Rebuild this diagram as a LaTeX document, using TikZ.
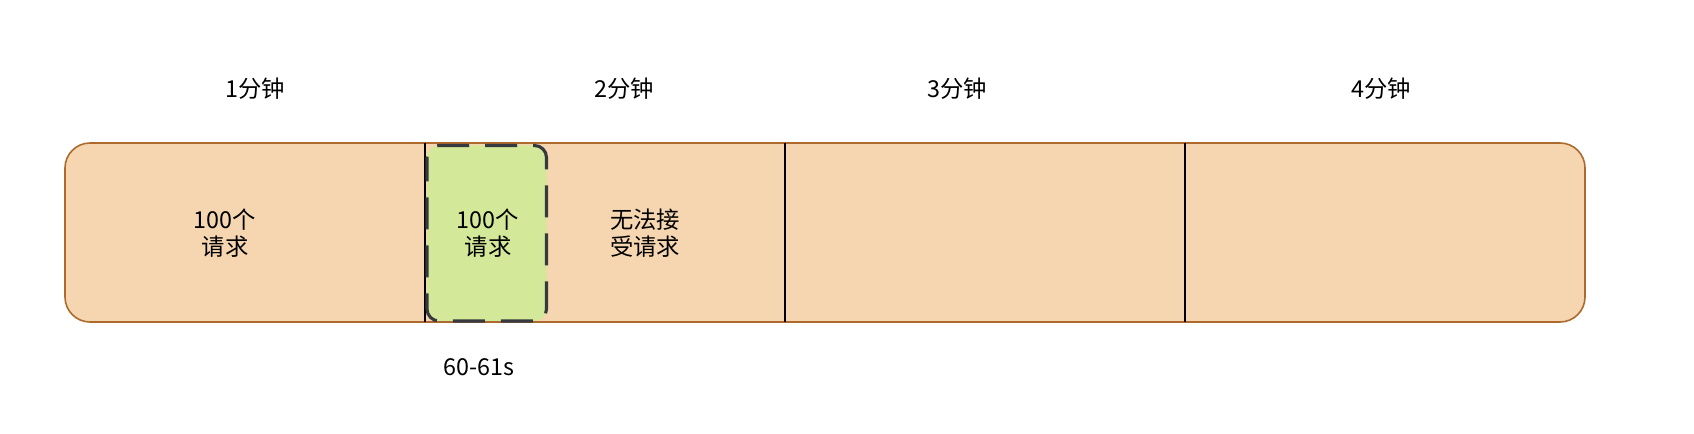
\documentclass[tikz,border=0pt]{standalone}
\usepackage{fontspec}
\setmainfont{Noto Sans CJK SC}
\usepackage{xcolor}
\definecolor{slotfill}{HTML}{F5D6B0}
\definecolor{slotline}{HTML}{AD6A2C}
\definecolor{burstfill}{HTML}{D3E898}
\definecolor{burstline}{HTML}{36393D}

\begin{document}
\begin{tikzpicture}[x=0.75pt,y=-0.75pt]
	\useasboundingbox (0,0) rectangle (1694,434);
	\newcommand{\bartop}{143}
	\newcommand{\barbot}{322}
	\newcommand{\cellfont}{\fontsize{17.5}{20}\selectfont}
	\draw[fill=slotfill, draw=slotline, line width=1.2pt, rounded corners=18.75pt] (65,\bartop) rectangle (1585,\barbot);
	\foreach \x in {425,785,1185}
	{
		\draw[black, line width=1.1pt] (\x,\bartop) -- (\x,\barbot);
	}
	\draw[fill=burstfill, draw=burstline, line width=2.3pt, rounded corners=9pt, dash pattern=on 24pt off 12pt, dash phase=6pt] (427,145.5) rectangle (546.5,321);
	\foreach \x/\minute in {255/1, 624/2, 957/3, 1381/4}
	{
		\node [font=\cellfont] (min\minute) at (\x, 89) {\minute{}分钟};
	}
	\node [font=\cellfont, align=center] (reqfirst) at (225, 233) {100个\\请求};
	\node [font=\cellfont, align=center] (reqburst) at (488, 233) {100个\\请求};
	\node [font=\cellfont, align=center] (reject) at (645, 233) {无法接\\受请求};
	\node [font=\cellfont] (window) at (479, 367) {60-61s};
\end{tikzpicture}
\end{document}
